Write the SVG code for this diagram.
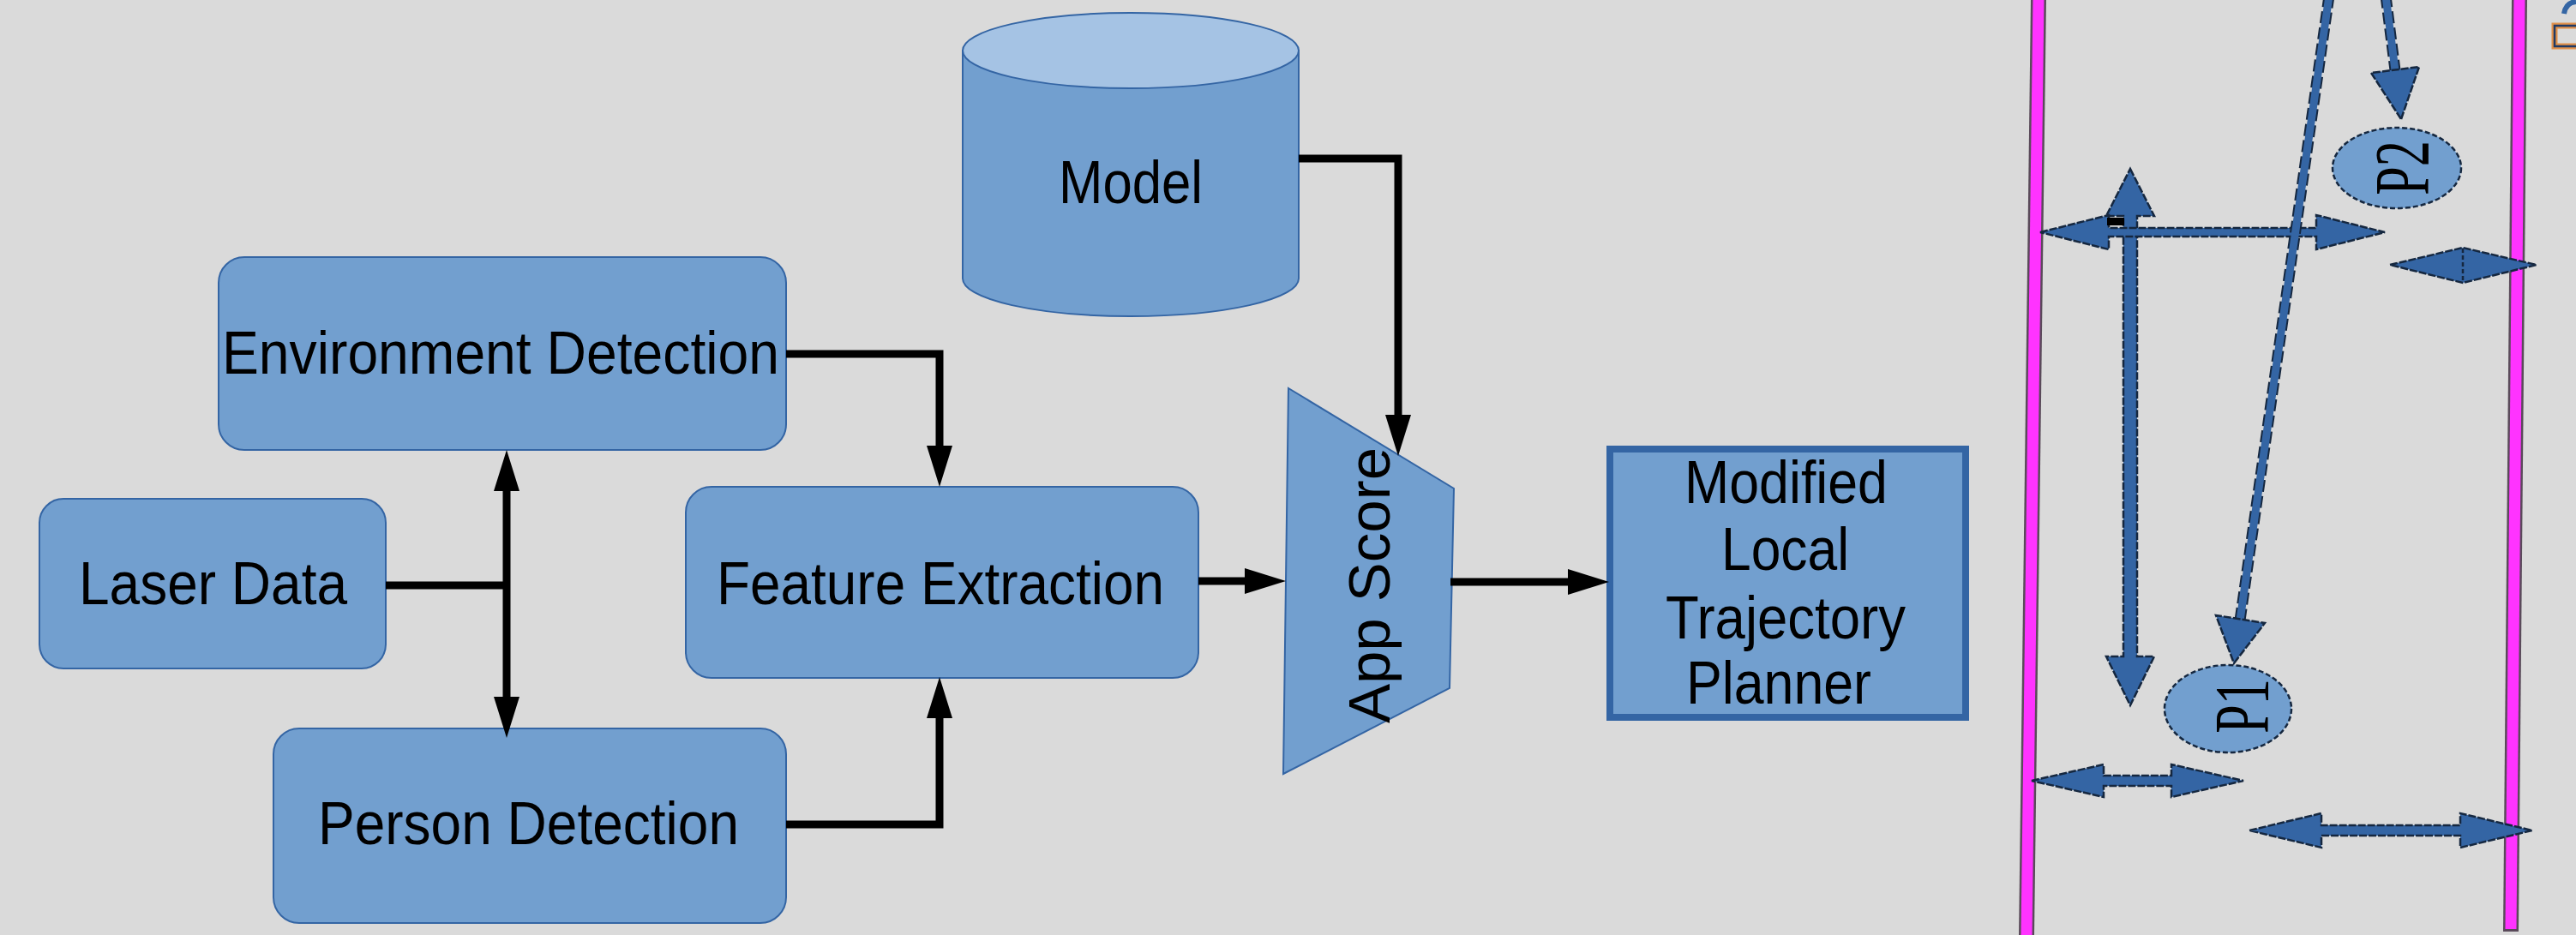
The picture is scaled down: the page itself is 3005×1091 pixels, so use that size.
<svg xmlns="http://www.w3.org/2000/svg" width="3005" height="1091" viewBox="0 0 3005 1091">
<style>
.node{fill:#729fcf;stroke:#3465a4;stroke-width:2}
.lbl{font-family:"Liberation Sans",Arial,sans-serif;font-size:71px;fill:#000}
.conn{fill:none;stroke:#000;stroke-width:9;stroke-linejoin:miter}
.barrow{fill:#3465a4;stroke:#15273f;stroke-width:2.5;stroke-dasharray:9 2}
.pl{font-family:"Liberation Serif","Times New Roman",serif;font-size:60px;fill:#000}
</style>
<defs>
<marker id="ah" markerUnits="userSpaceOnUse" markerWidth="48" markerHeight="30" refX="0" refY="15" orient="auto-start-reverse" viewBox="0 0 48 30">
<path d="M0,0 L48,15 L0,30 Z" fill="#000"/>
</marker>
</defs>
<rect x="0" y="0" width="3005" height="1091" fill="#dadada"/>

<g id="node-env">
<rect class="node" x="255" y="300" width="662" height="225" rx="30"/>
<text class="lbl" x="259" y="436" textLength="650" lengthAdjust="spacingAndGlyphs">Environment Detection</text>
</g>
<g id="node-laser">
<rect class="node" x="46" y="582" width="404" height="198" rx="28"/>
<text class="lbl" x="92" y="705" textLength="313" lengthAdjust="spacingAndGlyphs">Laser Data</text>
</g>
<g id="node-person">
<rect class="node" x="319" y="850" width="598" height="227" rx="30"/>
<text class="lbl" x="371" y="985" textLength="491" lengthAdjust="spacingAndGlyphs">Person Detection</text>
</g>
<g id="node-feature">
<rect class="node" x="800" y="568" width="598" height="223" rx="30"/>
<text class="lbl" x="836" y="705" textLength="522" lengthAdjust="spacingAndGlyphs">Feature Extraction</text>
</g>
<g id="node-model">
<path class="node" d="M1123,59 V325 A196,44 0 0 0 1515,325 V59 Z"/>
<ellipse cx="1319" cy="59" rx="196" ry="44" fill="#a5c3e4" stroke="#3465a4" stroke-width="2"/>
<text class="lbl" x="1235" y="237" textLength="168" lengthAdjust="spacingAndGlyphs">Model</text>
</g>
<g id="node-appscore">
<polygon class="node" points="1503,453 1696,570 1691,803 1497,903"/>
<text class="lbl" text-anchor="middle" transform="translate(1621,683) rotate(-90)" style="font-size:69px">App Score</text>
</g>
<g id="node-planner">
<rect x="1878" y="524" width="415" height="313" fill="#729fcf" stroke="#3465a4" stroke-width="8"/>
<text class="lbl" x="1965" y="587" textLength="237" lengthAdjust="spacingAndGlyphs">Modified</text>
<text class="lbl" x="2008" y="665" textLength="149" lengthAdjust="spacingAndGlyphs">Local</text>
<text class="lbl" x="1943" y="745" textLength="280" lengthAdjust="spacingAndGlyphs">Trajectory</text>
<text class="lbl" x="1967" y="821" textLength="216" lengthAdjust="spacingAndGlyphs">Planner</text>
</g>

<g id="connectors">
<path class="conn" d="M450,683 H591"/>
<path class="conn" d="M591,573 V813" marker-start="url(#ah)" marker-end="url(#ah)"/>
<path class="conn" d="M917,413 H1096 V520" marker-end="url(#ah)"/>
<path class="conn" d="M917,962 H1096 V838" marker-end="url(#ah)"/>
<path class="conn" d="M1398,678 H1452" marker-end="url(#ah)"/>
<path class="conn" d="M1515,185 H1631 V484" marker-end="url(#ah)"/>
<path class="conn" d="M1692,679 H1829" marker-end="url(#ah)"/>
</g>

<g id="scene">
<line x1="2378" y1="-2" x2="2364" y2="1093" stroke="#5a4a5a" stroke-width="18"/>
<line x1="2378" y1="-2" x2="2364" y2="1093" stroke="#ff33ff" stroke-width="13"/>
<line x1="2939" y1="-2" x2="2929" y2="1087" stroke="#5a4a5a" stroke-width="18"/>
<line x1="2939" y1="-2" x2="2929" y2="1084" stroke="#ff33ff" stroke-width="13"/>

<polygon class="barrow" points="2485,197 2513,252 2493,252 2493,766 2513,766 2485,823 2457,766 2477,766 2477,252 2457,252"/>
<polygon class="barrow" points="2380,271 2460,251 2460,266 2702,266 2702,251 2782,271 2702,291 2702,276 2460,276 2460,291"/>
<rect x="2458" y="254" width="20" height="9" fill="#000"/>

<polygon class="barrow" points="2370,911 2454,892 2454,905 2533,905 2533,892 2617,911 2533,930 2533,917 2454,917 2454,930"/>
<polygon class="barrow" points="2624,969 2708,949 2708,963 2870,963 2870,949 2954,969 2870,989 2870,975 2708,975 2708,989"/>
<polygon class="barrow" points="2788,309 2873,289 2959,309 2873,330"/>
<line x1="2873" y1="290" x2="2873" y2="329" stroke="#15273f" stroke-width="2.5" stroke-dasharray="5 3"/>

<line x1="2717" y1="-5" x2="2613" y2="724" stroke="#15273f" stroke-width="13" stroke-dasharray="14 5"/>
<line x1="2717" y1="-5" x2="2613" y2="724" stroke="#3465a4" stroke-width="9"/>
<polygon class="barrow" points="2606,774 2642,727 2585,718"/>
<line x1="2783" y1="-5" x2="2794" y2="82" stroke="#15273f" stroke-width="13" stroke-dasharray="14 5"/>
<line x1="2783" y1="-5" x2="2794" y2="82" stroke="#3465a4" stroke-width="9"/>
<polygon class="barrow" points="2801,139 2822,78 2766,85"/>

<g id="node-p2">
<ellipse cx="2796" cy="196" rx="75" ry="47" fill="#729fcf" stroke="#15273f" stroke-width="2.5" stroke-dasharray="6 3"/>
<text class="pl" text-anchor="middle" transform="translate(2833,196) rotate(-90) scale(1,1.5)">P2</text>
</g>
<g id="node-p1">
<ellipse cx="2599" cy="827" rx="74" ry="51" fill="#729fcf" stroke="#15273f" stroke-width="2.5" stroke-dasharray="6 3"/>
<text class="pl" text-anchor="middle" transform="translate(2646,824) rotate(-90) scale(1,1.5)">P1</text>
</g>

<path d="M3005,30 H2980 V54 H3005" fill="none" stroke="#e0904a" stroke-width="7"/>
<path d="M3005,30 H2980 V54 H3005" fill="none" stroke="#1f3a66" stroke-width="2.5"/>
<path d="M2991,16 Q2993,3 3005,2" fill="none" stroke="#3465a4" stroke-width="6"/>
</g>
</svg>
